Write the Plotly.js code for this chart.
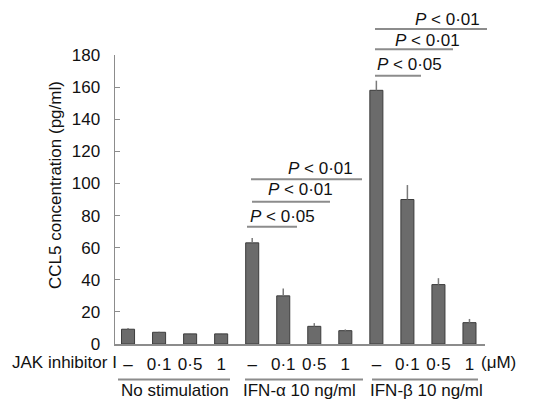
<!DOCTYPE html>
<html><head><meta charset="utf-8">
<script src="https://cdn.plot.ly/plotly-3.0.1.min.js"></script>
<style>html,body{margin:0;padding:0;background:#fff}#chart{width:533px;height:405px}</style>
</head><body><div id="chart"></div>
<script>
// Data
const doses = ['–', '0·1', '0·5', '1'];
const groups = ['No stimulation', 'IFN-α 10 ng/ml', 'IFN-β 10 ng/ml'];
const means = [9.2, 7.3, 6.3, 6.3, 63, 30, 11, 8.3, 158, 90, 37, 13.3];
const errs = [0.8, 0.3, 0.6, 0.5, 3, 4.5, 2, 0.8, 6, 9, 4, 2.3];
const pLabels = ['P < 0·05', 'P < 0·01', 'P < 0·01', 'P < 0·05', 'P < 0·01', 'P < 0·01'];

const W = 533, H = 405, L = 115, R = 485, T = 55, B = 344;
const FONT = '"Liberation Sans", Arial, Helvetica, sans-serif';
const px = x => (x - L) / (R - L);
const py = y => (B - y) / (B - T);

const xIdx = means.map((_, i) => i);
const tickText = xIdx.map(i => doses[i % doses.length]);

const trace = {
  type: 'bar', x: xIdx, y: means, width: 0.42,
  marker: {color: '#6b6b6b', line: {color: '#3c3c3c', width: 1}},
  error_y: {type: 'data', symmetric: false, array: errs, arrayminus: errs.map(() => 0),
            color: '#7a7a7a', thickness: 1.5, width: 0},
  hoverinfo: 'skip'
};

const shapes = [];
const annotations = [];
const line = (x0, x1, y) => shapes.push({type: 'line', xref: 'paper', yref: 'paper',
  x0: px(x0), x1: px(x1), y0: py(y), y1: py(y), line: {color: '#8c8c8c', width: 2}});
const pText = (txt, x, y) => {
  const parts = txt.split(' ');
  annotations.push({xref: 'paper', yref: 'paper', x: px(x), y: py(y), xanchor: 'left', yanchor: 'middle',
    text: '<i>' + parts[0] + '</i> ' + parts.slice(1).join(' '), showarrow: false,
    font: {family: FONT, size: 17, color: '#111'}});
};
// IFN-alpha brackets
line(247, 297, 226.7); pText(pLabels[0], 248, 217);
line(252, 330, 201.7); pText(pLabels[1], 266, 189);
line(251, 362, 179.3); pText(pLabels[2], 286, 168);
// IFN-beta brackets
line(375, 421, 75.7); pText(pLabels[3], 375, 64);
line(375, 453, 49.3); pText(pLabels[4], 393, 40);
line(375, 487, 29); pText(pLabels[5], 413, 19);

// group underlines and labels
const gLines = [[118, 230], [245, 363], [372, 478]];
const gCenters = [175, 299, 426];
groups.forEach((g, i) => {
  line(gLines[i][0], gLines[i][1], 379.5);
  annotations.push({xref: 'paper', yref: 'paper', x: px(gCenters[i]), y: py(390), xanchor: 'center', yanchor: 'middle',
    text: g, showarrow: false, font: {family: FONT, size: 17, color: '#111'}});
});
annotations.push({xref: 'paper', yref: 'paper', x: px(119), y: py(362), xanchor: 'right', yanchor: 'middle',
  text: 'JAK inhibitor I', showarrow: false, font: {family: FONT, size: 17, color: '#111'}});
annotations.push({xref: 'paper', yref: 'paper', x: px(479), y: py(362), xanchor: 'left', yanchor: 'middle',
  text: '(μM)', showarrow: false, font: {family: FONT, size: 17, color: '#111'}});
annotations.push({xref: 'paper', yref: 'paper', x: px(55), y: py(185), xanchor: 'center', yanchor: 'middle',
  textangle: -90, text: 'CCL5 concentration (pg/ml)', showarrow: false, font: {family: FONT, size: 17, color: '#111'}});

const layout = {
  width: W, height: H, margin: {l: L, r: W - R, t: T, b: H - B},
  paper_bgcolor: '#fff', plot_bgcolor: '#fff', showlegend: false,
  font: {family: FONT, size: 17, color: '#111'},
  xaxis: {range: [-0.42, 11.5], tickvals: xIdx, ticktext: tickText, ticks: '', showgrid: false, zeroline: false,
          showline: true, linecolor: '#8c8c8c', linewidth: 1.5, ticklabelstandoff: 4, fixedrange: true},
  yaxis: {range: [0, 180], dtick: 20, ticks: 'inside', ticklen: 5, tickcolor: '#8c8c8c', showgrid: false, zeroline: false,
          showline: true, linecolor: '#8c8c8c', linewidth: 1.5, ticklabelstandoff: 10, fixedrange: true},
  shapes: shapes, annotations: annotations
};
Plotly.newPlot('chart', [trace], layout, {displayModeBar: false, staticPlot: true});
</script></body></html>
